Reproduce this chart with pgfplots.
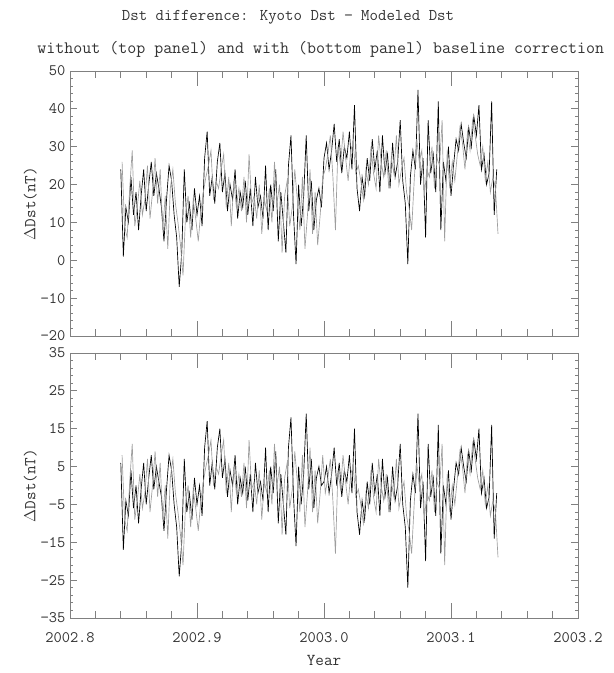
\documentclass[border=0pt]{standalone}
\usepackage{fontspec}
\usepackage{pgfplots}
\usepackage{pgfplotstable}
\pgfplotsset{compat=1.18}
\definecolor{framegray}{gray}{0.5}
\definecolor{linegray}{gray}{0.62}
\definecolor{textgray}{gray}{0.2}

% t, u = year - 2002; a,b: without correction; c,d: with correction
\pgfplotstableread{
t u a b c d
0.840 0.841 24 26 6 8
0.842 0.843 1 9 -17 -9
0.844 0.845 14 6 -4 -12
0.846 0.847 10 19 -8 1
0.848 0.849 22 29 4 11
0.850 0.851 12 9 -6 -9
0.852 0.853 18 14 0 -4
0.854 0.855 8 21 -10 3
0.856 0.857 17 12 -1 -6
0.858 0.859 24 16 6 -2
0.860 0.861 13 25 -5 7
0.862 0.863 20 11 2 -7
0.864 0.865 26 18 8 0
0.866 0.867 17 27 -1 9
0.868 0.869 23 15 5 -3
0.870 0.871 19 24 1 6
0.872 0.873 14 8 -3 -9
0.874 0.875 5 17 -12 0
0.876 0.877 16 3 -1 -14
0.878 0.879 25 19 8 2
0.880 0.881 21 24 4 7
0.882 0.883 12 15 -5 -2
0.884 0.885 6 10 -11 -7
0.886 0.887 -7 4 -24 -13
0.888 0.889 2 -4 -15 -21
0.890 0.891 24 12 7 -5
0.892 0.893 10 17 -7 0
0.894 0.895 15 6 -2 -11
0.896 0.897 8 16 -9 -1
0.898 0.899 19 11 2 -6
0.900 0.901 12 5 -5 -12
0.902 0.903 17 13 0 -4
0.904 0.905 9 18 -8 1
0.906 0.907 27 22 10 5
0.908 0.909 34 25 17 8
0.910 0.911 17 29 0 12
0.912 0.913 22 16 6 0
0.914 0.915 15 21 -1 5
0.916 0.917 26 19 10 3
0.918 0.919 31 24 15 8
0.920 0.921 18 28 2 12
0.922 0.923 23 14 7 -2
0.924 0.925 13 22 -3 6
0.926 0.927 20 9 4 -7
0.928 0.929 16 21 0 5
0.930 0.931 24 14 8 -2
0.932 0.933 11 19 -5 3
0.934 0.935 18 13 2 -3
0.936 0.937 14 22 -2 6
0.938 0.939 21 10 5 -6
0.940 0.941 12 28 -4 12
0.942 0.943 19 15 3 -1
0.944 0.945 9 17 -7 1
0.946 0.947 22 11 6 -5
0.948 0.949 14 20 -2 4
0.950 0.951 17 7 1 -9
0.952 0.953 11 16 -4 1
0.954 0.955 25 13 10 -2
0.956 0.957 8 19 -7 4
0.958 0.959 20 10 5 -5
0.960 0.961 13 26 -2 11
0.962 0.963 24 15 9 0
0.964 0.965 5 20 -10 5
0.966 0.967 18 2 3 -13
0.968 0.969 10 17 -5 2
0.970 0.971 2 21 -13 6
0.972 0.973 25 9 10 -6
0.974 0.975 33 14 18 -1
0.976 0.977 12 24 -3 9
0.978 0.979 -1 16 -16 1
0.980 0.981 20 8 5 -7
0.982 0.983 9 22 -5 8
0.984 0.985 17 3 3 -11
0.986 0.987 33 12 19 -2
0.988 0.989 13 24 -1 10
0.990 0.991 21 7 7 -7
0.992 0.993 8 18 -6 4
0.994 0.995 16 4 2 -10
0.996 0.997 19 12 5 -2
0.998 0.999 14 22 0 8
1.000 1.001 27 24 1 -2
1.002 1.003 31 28 5 2
1.004 1.005 24 33 -2 7
1.006 1.007 29 22 3 -4
1.008 1.009 36 8 10 -18
1.010 1.011 26 30 0 4
1.012 1.013 32 25 6 -1
1.014 1.015 23 34 -3 8
1.016 1.017 30 27 4 1
1.018 1.019 27 21 1 -5
1.020 1.021 34 29 8 3
1.022 1.023 24 31 -2 5
1.024 1.025 41 23 15 -3
1.026 1.027 19 25 -7 -1
1.028 1.029 13 21 -13 -5
1.030 1.031 22 16 -4 -10
1.032 1.033 17 24 -9 -2
1.034 1.035 27 20 1 -6
1.036 1.037 21 30 -5 4
1.038 1.039 32 23 6 -3
1.040 1.041 24 19 -2 -7
1.042 1.043 29 33 3 7
1.044 1.045 18 26 -8 0
1.046 1.047 33 22 7 -4
1.048 1.049 23 29 -3 3
1.050 1.051 28 19 2 -7
1.052 1.053 19 27 -7 1
1.054 1.055 31 23 5 -3
1.056 1.057 22 33 -4 7
1.058 1.059 26 20 0 -6
1.060 1.061 37 24 11 -2
1.062 1.063 21 27 -5 1
1.064 1.065 15 18 -11 -8
1.066 1.067 -1 14 -27 -12
1.068 1.069 22 8 -4 -18
1.070 1.071 29 21 3 -5
1.072 1.073 24 32 -2 6
1.074 1.075 45 26 19 0
1.076 1.077 20 29 -6 3
1.078 1.079 27 17 1 -9
1.080 1.081 6 24 -20 -2
1.082 1.083 37 22 11 -4
1.084 1.085 23 30 -3 4
1.086 1.087 28 19 2 -7
1.088 1.089 18 27 -8 1
1.090 1.091 42 25 16 -1
1.092 1.093 8 37 -18 11
1.094 1.095 26 5 0 -21
1.096 1.097 21 29 -5 3
1.098 1.099 30 19 4 -7
1.100 1.101 17 26 -9 0
1.102 1.103 25 21 -1 -5
1.104 1.105 32 28 6 2
1.106 1.107 29 35 3 9
1.108 1.109 36 31 10 5
1.110 1.111 31 24 5 -2
1.112 1.113 27 34 1 8
1.114 1.115 35 29 9 3
1.116 1.117 30 37 4 11
1.118 1.119 38 33 12 7
1.120 1.121 33 28 7 2
1.122 1.123 41 25 15 -1
1.124 1.125 24 30 -2 4
1.126 1.127 28 21 2 -5
1.128 1.129 20 26 -6 0
1.130 1.131 23 18 -3 -8
1.132 1.133 42 22 16 -4
1.134 1.135 12 19 -14 -7
1.136 1.137 24 7 -2 -19
}\dsttable

\pgfplotsset{
  panelbox/.style={
    scale only axis,
    width=381pt, height=198.75pt,
    xmin=0.8, xmax=1.2,
    axis line style={framegray, line width=0.6pt},
    tick style={framegray, line width=0.6pt},
    tick label style={font=\ttfamily\fontsize{12}{14}\selectfont, text=textgray},
    label style={font=\ttfamily\fontsize{12.5}{14}\selectfont, text=textgray},
  },
  % data axis: y ticks only (short)
  dstpanel/.style={
    panelbox,
    xtick=\empty,
    minor y tick num=4,
    major tick length=5pt, minor tick length=2.5pt,
    ylabel={$\Delta$Dst(nT)},
    ylabel style={yshift=-4pt},
  },
  % overlay: x ticks only (long)
  xticks/.style={
    panelbox,
    ymin=0, ymax=1, ytick=\empty,
    xtick={0.8,0.9,1.0,1.1,1.2},
    minor x tick num=4,
    major tick length=11.25pt, minor tick length=5.25pt,
    xticklabel style={yshift=-7pt},
    xlabel style={yshift=-3pt},
  },
}

\begin{document}
\begin{tikzpicture}
\path[use as bounding box] (0pt,0pt) rectangle (459.75pt,504.75pt);

\node[font=\ttfamily\fontsize{12.3}{14}\selectfont, text=textgray] at (216pt,492pt) {Dst difference: Kyoto Dst − Modeled Dst};
\node[font=\ttfamily\fontsize{13.1}{14}\selectfont, text=textgray] at (240.5pt,467.5pt) {without (top panel) and with (bottom panel) baseline correction};

% top panel
\begin{axis}[dstpanel,
  at={(52.5pt,252.75pt)}, anchor=south west,
  ymin=-20, ymax=50,
  ytick={-20,-10,0,10,20,30,40,50},
  yticklabels={−20,−10,0,10,20,30,40,50},
]
\addplot[black, line width=0.5pt] table[x=t, y=a] {\dsttable};
\addplot[linegray, line width=0.5pt] table[x=u, y=b] {\dsttable};
\end{axis}
\begin{axis}[xticks, at={(52.5pt,252.75pt)}, anchor=south west, xticklabels={}]
\end{axis}

% bottom panel
\begin{axis}[dstpanel,
  at={(52.5pt,41.25pt)}, anchor=south west,
  ymin=-35, ymax=35,
  ytick={-35,-25,-15,-5,5,15,25,35},
  yticklabels={−35,−25,−15,−5,5,15,25,35},
]
\addplot[black, line width=0.5pt] table[x=t, y=c] {\dsttable};
\addplot[linegray, line width=0.5pt] table[x=u, y=d] {\dsttable};
\end{axis}
\begin{axis}[xticks, at={(52.5pt,41.25pt)}, anchor=south west,
  xticklabels={2002.8,2002.9,2003.0,2003.1,2003.2},
  xlabel={Year},
]
\end{axis}
\end{tikzpicture}
\end{document}
